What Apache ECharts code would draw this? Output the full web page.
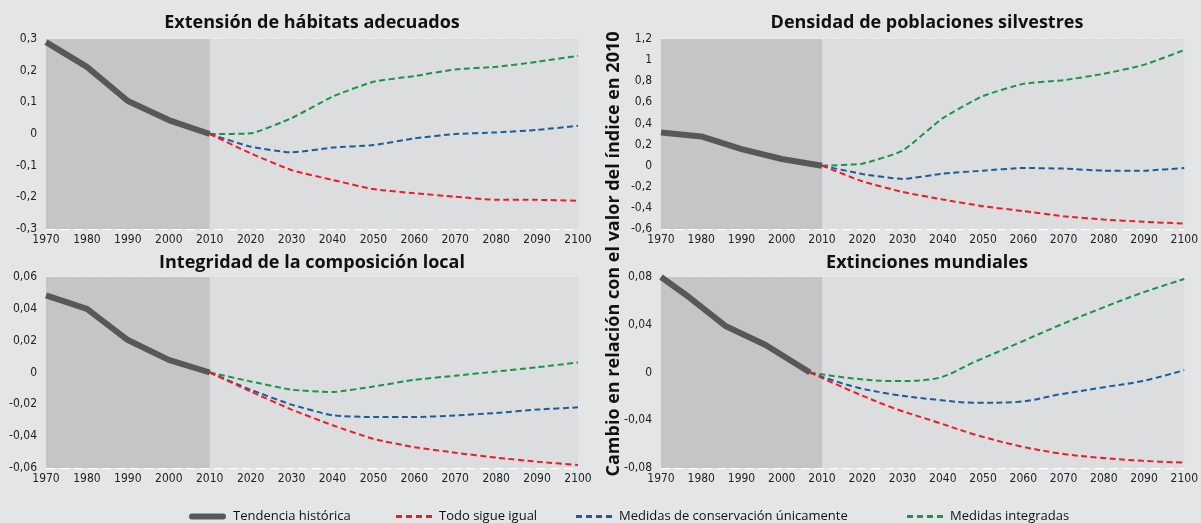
<!DOCTYPE html>
<html>
<head>
<meta charset="utf-8">
<script src="https://cdn.jsdelivr.net/npm/echarts@6/dist/echarts.min.js"></script>
<style>
html,body{margin:0;padding:0;background:#e4e5e7;}
#c{width:1201px;height:523px;}
</style>
</head>
<body>
<div id="c"></div>
<script>
// ---- Data ----
const histYears = [1970, 1980, 1990, 2000, 2010];
const projYears = [2010, 2020, 2030, 2040, 2050, 2060, 2070, 2080, 2090, 2100];
const extHistYears = [1970, 1977, 1986, 1996, 2007];
const extProjYears = [2007, 2017.3, 2027.7, 2038, 2048.3, 2058.7, 2069, 2079.3, 2089.7, 2100];

const seriesNames = ['Tendencia histórica', 'Todo sigue igual', 'Medidas de conservación únicamente', 'Medidas integradas'];
const panelTitles = ['Extensión de hábitats adecuados', 'Densidad de poblaciones silvestres', 'Integridad de la composición local', 'Extinciones mundiales'];
const yAxisTitle = 'Cambio en relación con el valor del índice en 2010';

const habHist = [0.29, 0.212, 0.104, 0.044, 0];
const habRed = [0, -0.061, -0.114, -0.145, -0.174, -0.187, -0.198, -0.208, -0.208, -0.211];
const habBlue = [0, -0.04, -0.058, -0.043, -0.035, -0.014, 0, 0.005, 0.013, 0.026];
const habGreen = [0, 0.002, 0.05, 0.118, 0.165, 0.183, 0.204, 0.212, 0.228, 0.247];

const denHist = [0.315, 0.277, 0.157, 0.063, 0];
const denRed = [0, -0.148, -0.249, -0.32, -0.384, -0.43, -0.479, -0.51, -0.532, -0.548];
const denBlue = [0, -0.079, -0.126, -0.076, -0.047, -0.022, -0.028, -0.047, -0.047, -0.022];
const denGreen = [0, 0.019, 0.142, 0.45, 0.66, 0.775, 0.81, 0.87, 0.955, 1.096];

const intHist = [0.0485, 0.040, 0.0204, 0.0079, 0];
const intRed = [0, -0.0119, -0.0233, -0.0331, -0.0417, -0.0469, -0.0504, -0.0535, -0.056, -0.0581];
const intBlue = [0, -0.0108, -0.0202, -0.0269, -0.028, -0.028, -0.027, -0.0254, -0.0233, -0.0219];
const intGreen = [0, -0.0056, -0.0108, -0.0123, -0.0088, -0.0046, -0.002, 0.0006, 0.0033, 0.0063];

const extHist = [0.08, 0.063, 0.039, 0.023, 0];
const extRed = [0, -0.0155, -0.0297, -0.041, -0.0523, -0.0613, -0.0678, -0.0715, -0.074, -0.0755];
const extBlue = [0, -0.0113, -0.0184, -0.0226, -0.0254, -0.0246, -0.0184, -0.0127, -0.0071, 0.002];
const extGreen = [0, -0.0048, -0.0072, -0.0052, 0.0095, 0.0245, 0.0396, 0.0537, 0.067, 0.0783];

const yRanges = [[-0.3, 0.3, 0.1], [-0.6, 1.2, 0.2], [-0.06, 0.06, 0.02], [-0.08, 0.08, 0.04]];

// ---- Styles ----
const C_HIST = '#585858', C_RED = '#ee1d25', C_BLUE = '#1b5c9f', C_GREEN = '#16964a';
const GREY_ZONE = '#c4c5c7', PLOT_BG = '#dcdddf';
const tickFont = '"Liberation Sans Narrow", "DejaVu Sans Condensed", sans-serif';
const titleFont = '"Open Sans", Lato, sans-serif';

const grids = [
  {left: 46, right: 623, top: 39, bottom: 294},
  {left: 661, right: 8, top: 39, bottom: 294},
  {left: 46, right: 623, top: 277, bottom: 55},
  {left: 661, right: 8, top: 277, bottom: 55}
];

const panels = [
  {hy: histYears, py: projYears, h: habHist, r: habRed, b: habBlue, g: habGreen, smooth: 0.15},
  {hy: histYears, py: projYears, h: denHist, r: denRed, b: denBlue, g: denGreen, smooth: 0.15},
  {hy: histYears, py: projYears, h: intHist, r: intRed, b: intBlue, g: intGreen, smooth: 0.15},
  {hy: extHistYears, py: extProjYears, h: extHist, r: extRed, b: extBlue, g: extGreen, smooth: 0.35}
];

const fmtNum = v => String(+(+v).toFixed(4)).replace('.', ',');
const pair = (xs, ys) => xs.map((x, i) => [x, ys[i]]);

const xAxes = [], yAxes = [], series = [];
grids.forEach((g, i) => {
  xAxes.push({
    type: 'value', gridIndex: i, min: 1970, max: 2100, interval: 10,
    axisLine: {show: false}, axisTick: {show: false}, splitLine: {show: false},
    axisLabel: {formatter: v => String(v), color: '#222', fontSize: 12, fontFamily: tickFont, margin: 5}
  });
  const [mn, mx, iv] = yRanges[i];
  yAxes.push({
    type: 'value', gridIndex: i, min: mn, max: mx, interval: iv,
    axisLine: {show: false}, axisTick: {show: false},
    splitLine: {show: true, lineStyle: {color: '#ffffff', type: [9, 5], width: 1.3}},
    axisLabel: {formatter: fmtNum, color: '#222', fontSize: 12, fontFamily: tickFont, margin: 9}
  });
  const p = panels[i];
  // background zones
  series.push({
    type: 'line', xAxisIndex: i, yAxisIndex: i, data: [], z: -1, silent: true,
    markArea: {
      silent: true,
      data: [
        [{xAxis: 2010, itemStyle: {color: PLOT_BG}}, {xAxis: 2100}],
        [{xAxis: 1970, itemStyle: {color: GREY_ZONE}}, {xAxis: 2010}]
      ]
    }
  });
  series.push({
    name: seriesNames[0], type: 'line', xAxisIndex: i, yAxisIndex: i, z: 5,
    data: pair(p.hy, p.h), symbol: 'none', color: C_HIST,
    lineStyle: {color: C_HIST, width: 6, cap: 'butt', join: 'round'}
  });
  [[seriesNames[3], p.g, C_GREEN], [seriesNames[2], p.b, C_BLUE], [seriesNames[1], p.r, C_RED]].forEach(([nm, d, c]) => {
    series.push({
      name: nm, type: 'line', xAxisIndex: i, yAxisIndex: i, z: 4,
      data: pair(p.py, d), symbol: 'none', smooth: p.smooth, color: c,
      lineStyle: {color: c, width: 2, type: [6, 3.5]}
    });
  });
});

const ICON_HIST = 'path://M3,0h31a3,3 0 0 1 0,6h-31a3,3 0 0 1 0,-6z';
const ICON_DASH = 'path://M0,0h6v3h-6zM10,0h6v3h-6zM20,0h6v3h-6zM30,0h6v3h-6z';
const legendLefts = [184, 391, 571, 902];
const legends = seriesNames.map((nm, i) => ({
  data: [{name: nm, icon: i === 0 ? ICON_HIST : ICON_DASH}],
  left: legendLefts[i], top: 505,
  itemWidth: i === 0 ? 37 : 36, itemHeight: i === 0 ? 6 : 3, itemGap: 8,
  selectedMode: false,
  textStyle: {fontSize: 13, color: '#111', fontFamily: titleFont, padding: [0, 0, 0, 2]}
}));

const graphics = [];
const titlePos = [[312, 23], [927, 23], [312, 263], [927, 263]];
panelTitles.forEach((t, i) => {
  graphics.push({
    type: 'text', x: titlePos[i][0], y: titlePos[i][1],
    style: {text: t, fontSize: 18, fontWeight: 'bold', fontFamily: titleFont, fill: '#111',
      textAlign: 'center', textVerticalAlign: 'middle'}
  });
});
graphics.push({
  type: 'text', x: 614, y: 254, rotation: Math.PI / 2,
  style: {text: yAxisTitle, fontSize: 18, fontWeight: 'bold', fontFamily: titleFont, fill: '#111',
    textAlign: 'center', textVerticalAlign: 'middle'}
});

const chart = echarts.init(document.getElementById('c'), null, {renderer: 'canvas'});
chart.setOption({
  backgroundColor: '#e4e5e7',
  animation: false,
  grid: grids,
  xAxis: xAxes,
  yAxis: yAxes,
  legend: legends,
  series: series,
  graphic: graphics
});
</script>
</body>
</html>
